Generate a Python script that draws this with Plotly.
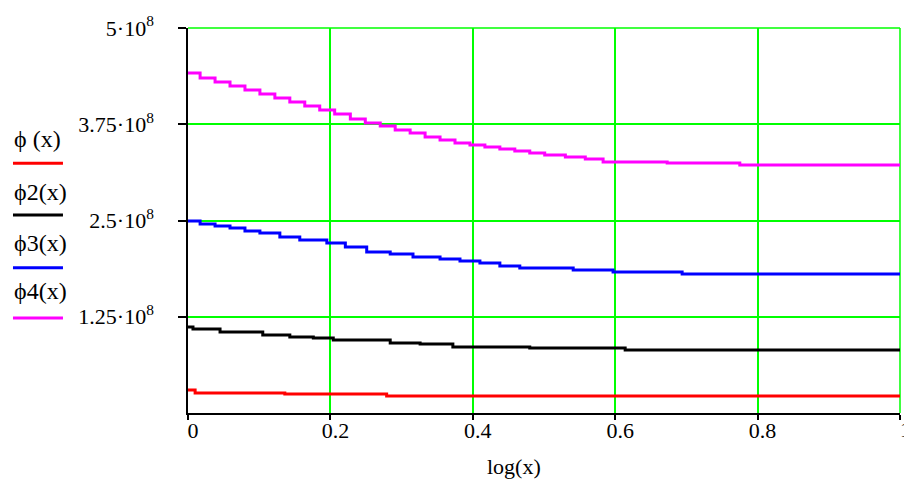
import plotly.graph_objects as go

# ---- data ----
x_phi1 = [0.0, 0.010, 0.136, 0.279, 1.0]
y_phi1 = [0.299e8, 0.260e8, 0.247e8, 0.221e8, 0.221e8]

x_phi2 = [0.0, 0.007, 0.045, 0.105, 0.143, 0.176, 0.204, 0.284, 0.326, 0.372, 0.480, 0.614, 1.0]
y_phi2 = [1.117e8, 1.091e8, 1.052e8, 1.013e8, 0.987e8, 0.974e8, 0.948e8, 0.909e8, 0.896e8,
          0.857e8, 0.844e8, 0.818e8, 0.818e8]

x_phi3 = [0.0, 0.017, 0.038, 0.059, 0.080, 0.101, 0.129, 0.157, 0.195, 0.221, 0.251, 0.284,
          0.316, 0.354, 0.382, 0.410, 0.438, 0.466, 0.541, 0.597, 0.694, 1.0]
y_phi3 = [2.494e8, 2.455e8, 2.429e8, 2.403e8, 2.364e8, 2.338e8, 2.286e8, 2.247e8, 2.208e8,
          2.156e8, 2.091e8, 2.065e8, 2.026e8, 2.000e8, 1.974e8, 1.948e8, 1.909e8, 1.883e8,
          1.857e8, 1.831e8, 1.805e8, 1.805e8]

x_phi4 = [0.0, 0.017, 0.038, 0.059, 0.080, 0.101, 0.122, 0.143, 0.164, 0.185, 0.206, 0.228,
          0.249, 0.270, 0.291, 0.312, 0.333, 0.354, 0.375, 0.396, 0.417, 0.438, 0.459, 0.480,
          0.501, 0.530, 0.558, 0.583, 0.673, 0.775, 1.0]
y_phi4 = [4.416e8, 4.351e8, 4.299e8, 4.247e8, 4.195e8, 4.143e8, 4.091e8, 4.039e8, 3.987e8,
          3.935e8, 3.883e8, 3.818e8, 3.766e8, 3.727e8, 3.675e8, 3.636e8, 3.584e8, 3.545e8,
          3.506e8, 3.481e8, 3.455e8, 3.429e8, 3.403e8, 3.377e8, 3.351e8, 3.325e8, 3.299e8,
          3.260e8, 3.247e8, 3.221e8, 3.221e8]

x_ticks = [0, 0.2, 0.4, 0.6, 0.8]
x_tick_text = ["0", "0.2", "0.4", "0.6", "0.8"]
x_last_tick_text = "1"
y_ticks = [1.25e8, 2.5e8, 3.75e8, 5e8]
y_tick_text = ["1.25·10<sup>8</sup>", "2.5·10<sup>8</sup>", "3.75·10<sup>8</sup>", "5·10<sup>8</sup>"]

series_names = ["ϕ (x)", "ϕ2(x)", "ϕ3(x)", "ϕ4(x)"]
series_colors = ["#ff0000", "#000000", "#0000ff", "#ff00ff"]
series_x = [x_phi1, x_phi2, x_phi3, x_phi4]
series_y = [y_phi1, y_phi2, y_phi3, y_phi4]

FONT = "Liberation Serif"
GREEN = "#00ff00"

fig = go.Figure()
for xs, ys, name, col in zip(series_x, series_y, series_names, series_colors):
    fig.add_trace(go.Scatter(x=xs, y=ys, mode="lines", name=name,
                             line=dict(color=col, width=3, shape="hv"),
                             showlegend=False, hoverinfo="skip"))

# manual legend (text above a short colored line), left of the plot
legend_text_y = [0.712, 0.575, 0.442, 0.316]
legend_line_y = [0.649, 0.514, 0.377, 0.247]
for name, col, ty, ly in zip(series_names, series_colors, legend_text_y, legend_line_y):
    fig.add_annotation(x=-0.2472, y=ty, xref="paper", yref="paper", text=name,
                       showarrow=False, xanchor="left", yanchor="middle",
                       font=dict(family=FONT, size=24, color="#000000"))
    fig.add_shape(type="line", xref="paper", yref="paper",
                  x0=-0.2458, x1=-0.1756, y0=ly, y1=ly,
                  line=dict(color=col, width=3))

fig.add_annotation(x=0.458, y=-0.140, xref="paper", yref="paper", text="log(x)",
                   showarrow=False, xanchor="center", yanchor="middle",
                   font=dict(family=FONT, size=22, color="#000000"))

# last x tick label, cut off at the right page edge as in the reference
fig.add_annotation(x=1.0, y=-0.043, xref="paper", yref="paper", text=x_last_tick_text,
                   showarrow=False, xanchor="left", yanchor="middle", xshift=-2,
                   font=dict(family=FONT, size=22, color="#000000"))

fig.update_xaxes(range=[0, 1], tickvals=x_ticks + [1.0], ticktext=x_tick_text + [""],
                 showgrid=True, gridcolor=GREEN, gridwidth=1.5,
                 showline=True, linecolor="#000000", linewidth=1.5,
                 ticks="outside", ticklen=5, tickcolor="#000000", tickwidth=1.5,
                 zeroline=False, ticklabelshift=5, ticklabelstandoff=-8,
                 tickfont=dict(family=FONT, size=22, color="#000000"))
fig.update_yaxes(range=[0, 5e8], tickvals=y_ticks, ticktext=y_tick_text,
                 showgrid=True, gridcolor=GREEN, gridwidth=1.5,
                 showline=True, linecolor="#000000", linewidth=1.5,
                 ticks="outside", ticklen=8, tickcolor="#000000", tickwidth=1.5,
                 zeroline=False, ticklabelstandoff=20,
                 tickfont=dict(family=FONT, size=22, color="#000000"))

# green frame lines at the top and right (grid at range ends)
fig.add_shape(type="line", xref="paper", yref="paper", x0=0, x1=1, y0=1, y1=1,
              line=dict(color=GREEN, width=1.5), layer="below")
fig.add_shape(type="line", xref="paper", yref="paper", x0=1, x1=1, y0=0, y1=1,
              line=dict(color=GREEN, width=1.5), layer="below")

fig.update_layout(width=904, height=482, margin=dict(l=188, r=4, t=28, b=69),
                  paper_bgcolor="#ffffff", plot_bgcolor="#ffffff",
                  font=dict(family=FONT, color="#000000"))

fig.write_html("out.html")
